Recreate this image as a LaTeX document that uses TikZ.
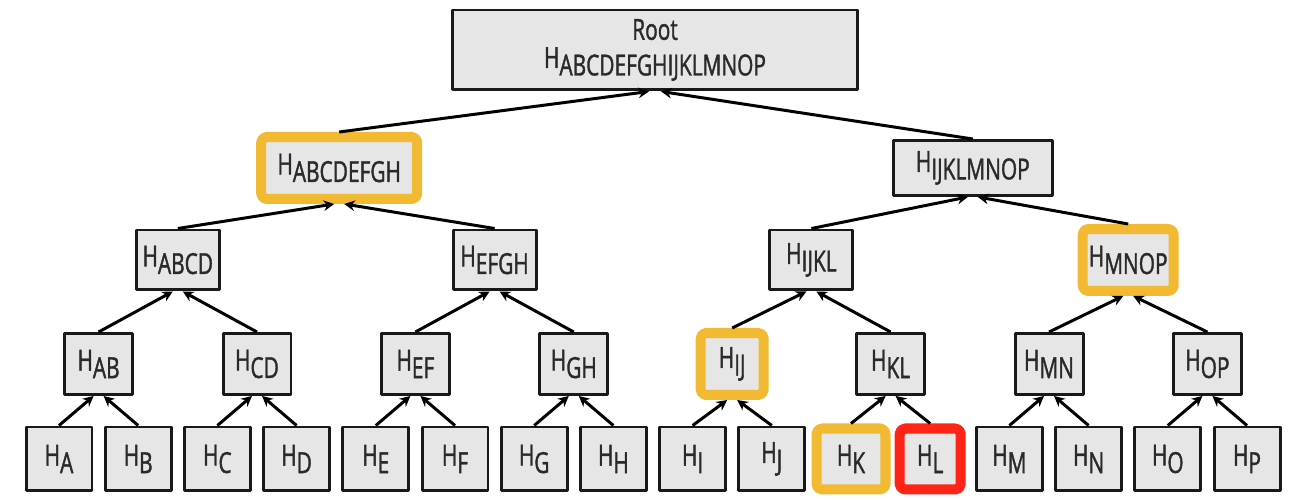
\documentclass[tikz,border=0pt]{standalone}
\usepackage{fontspec}
\setmainfont{Open Sans}[FakeStretch=0.72, FakeBold=1.3]
\usetikzlibrary{arrows.meta}
\definecolor{boxgray}{HTML}{E6E6E6}
\definecolor{hlyellow}{HTML}{F2B933}
\definecolor{hlred}{HTML}{FF2416}
\definecolor{txtgray}{HTML}{2A2A2A}
\newcommand\hsub[1]{H\raisebox{-0.26em}{#1}}
\begin{document}
\begin{tikzpicture}[x=0.02cm, y=0.02cm, line join=round, >={Stealth[length=6pt,width=6pt]},
	font=\fontsize{16.5}{17}\selectfont,
	hash/.style={draw=black!90, line width=1.7pt, fill=boxgray, text=txtgray, inner sep=0pt},
	hl/.style={hash, draw=hlyellow, line width=5.7pt, rounded corners=3pt},
	leaf/.style={hash, minimum width=1.32cm, minimum height=1.28cm},
	leafk/.style={hl, minimum width=1.38cm, minimum height=1.22cm},
	leafl/.style={hl, draw=hlred, minimum width=1.22cm, minimum height=1.22cm},
	pair/.style={hash, minimum width=1.36cm, minimum height=1.22cm},
	pairhl/.style={hl, minimum width=1.26cm, minimum height=1.24cm},
	quad/.style={hash, minimum width=1.66cm, minimum height=1.2cm},
	quadhl/.style={hl, minimum width=1.82cm, minimum height=1.24cm},
	half/.style={hash, minimum width=3.18cm, minimum height=1.1cm},
	halfhl/.style={hl, minimum width=3.12cm, minimum height=1.24cm},
	link/.style={->, line width=1.7pt}]
	\useasboundingbox (0,0) rectangle (1298,500);
	\def\dx{79.2} \def\xo{59} % leaf spacing, first leaf
	% leaves
	\foreach \l/\st [count=\i from 0] in {A/leaf,B/leaf,C/leaf,D/leaf,E/leaf,F/leaf,G/leaf,H/leaf,
		I/leaf,J/leaf,K/leafk,L/leafl,M/leaf,N/leaf,O/leaf,P/leaf}
		\node[\st] (\l) at ({\xo+\dx*\i},41) {\hsub{\l}};
	% pairs
	\foreach \p/\a/\b/\st [count=\i from 0] in {AB/A/B/pair,CD/C/D/pair,EF/E/F/pair,GH/G/H/pair,
		IJ/I/J/pairhl,KL/K/L/pair,MN/M/N/pair,OP/O/P/pair}{
		\node[\st] (\p) at ({\xo+\dx*(2*\i+0.5)},136) {\hsub{\p}};
		\draw[link] (\a.north) -- ([xshift=-0.1cm]\p.south);
		\draw[link] (\b.north) -- ([xshift=0.1cm]\p.south);
	}
	% quads
	\foreach \p/\a/\b/\st [count=\i from 0] in {ABCD/AB/CD/quad,EFGH/EF/GH/quad,
		IJKL/IJ/KL/quad,MNOP/MN/OP/quadhl}{
		\node[\st] (\p) at ({\xo+\dx*(4*\i+1.5)},240) {\hsub{\p}};
		\draw[link] (\a.north) -- ([xshift=-0.1cm]\p.south);
		\draw[link] (\b.north) -- ([xshift=0.1cm]\p.south);
	}
	% halves
	\foreach \p/\a/\b/\st [count=\i from 0] in {ABCDEFGH/ABCD/EFGH/halfhl,IJKLMNOP/IJKL/MNOP/half}{
		\node[\st] (\p) at ({\xo+3+\dx*(8*\i+3.5)},332) {\hsub{\p}};
		\draw[link] (\a.north) -- ([xshift=-0.1cm]\p.south);
		\draw[link] (\b.north) -- ([xshift=0.1cm]\p.south);
	}
	\node[hash, minimum width=8.1cm, minimum height=1.6cm, align=center] (root) at ({\xo+2+\dx*7.5},450)
		{Root\\[-1pt]\hsub{ABCDEFGHIJKLMNOP}};
	\draw[link] (ABCDEFGH.north) -- ([xshift=-0.12cm]root.south);
	\draw[link] (IJKLMNOP.north) -- ([xshift=0.12cm]root.south);
\end{tikzpicture}
\end{document}
